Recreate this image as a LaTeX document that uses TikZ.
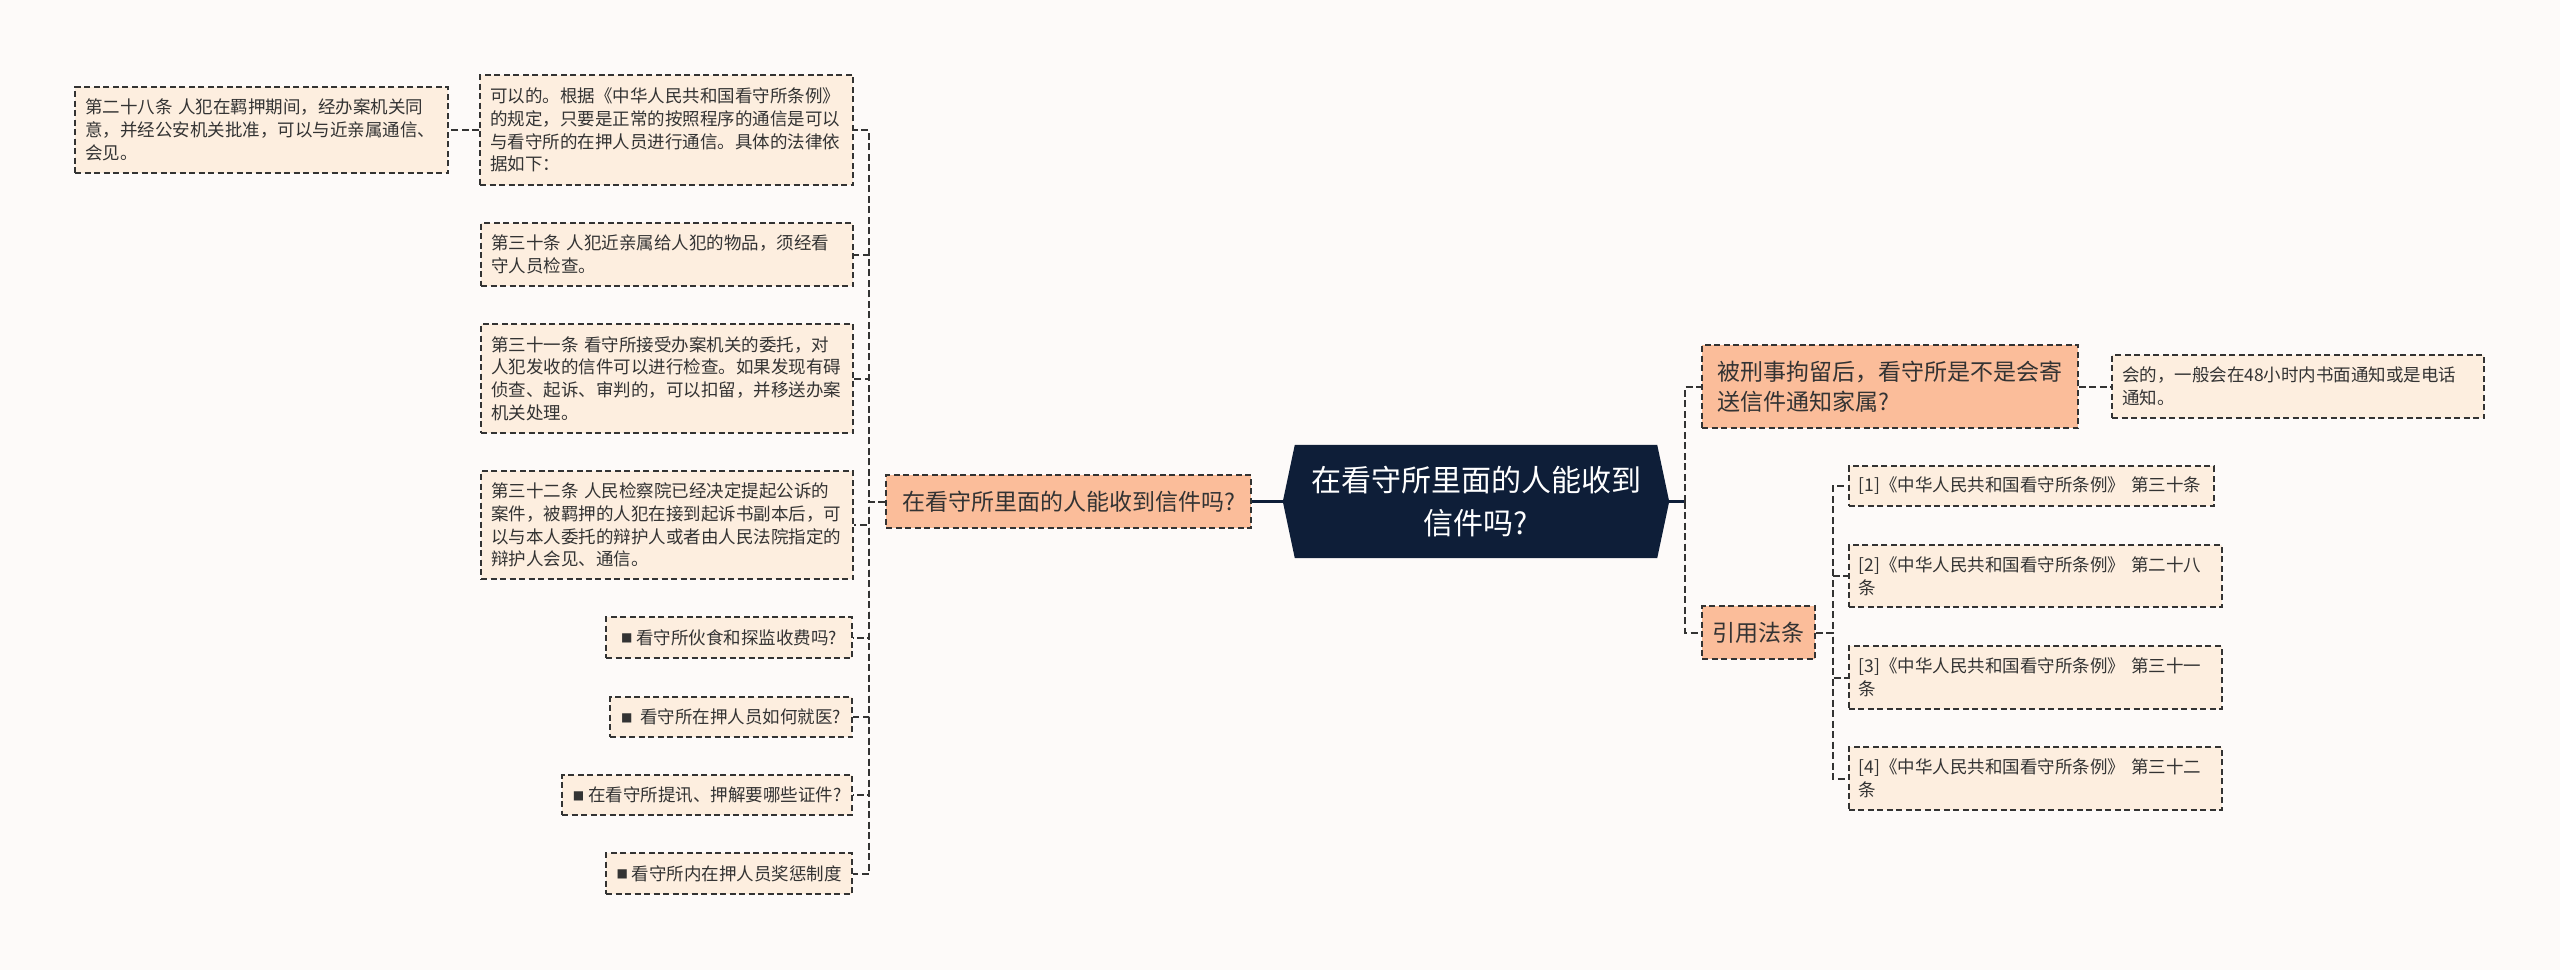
\documentclass[tikz,border=0pt]{standalone}
\usepackage{fontspec}
\setmainfont{Noto Sans CJK SC}
\newfontfamily\symfont{DejaVu Sans}
\usepackage{xcolor}
\usetikzlibrary{positioning, backgrounds}

\definecolor{pagebg}{HTML}{FDFAF9}
\definecolor{leaffill}{HTML}{FDEEDF}
\definecolor{midfill}{HTML}{FBBD9A}
\definecolor{rootfill}{HTML}{0E1E38}
\definecolor{inkgray}{HTML}{333333}
\newcommand{\bulletsq}{\raisebox{2.5pt}{\symfont\fontsize{12}{12}\selectfont ■}}

\begin{document}
\begin{tikzpicture}[
    x=1pt, y=-1pt,
    leaf/.style={rectangle, draw=inkgray, fill=leaffill, line width=1.6pt,
                 dash pattern=on 6pt off 3.5pt, text=inkgray, align=left,
                 inner xsep=6pt, inner ysep=0pt,
                 font=\fontsize{17.5}{22.8}\selectfont},
    textbox/.style={leaf, inner xsep=10pt, text width=#1-20pt},
    mid/.style={leaf, fill=midfill, font=\fontsize{23}{30}\selectfont},
    rootbox/.style={rectangle, text=white, align=center,
                    minimum width=386, minimum height=113,
                    font=\fontsize{30}{43}\selectfont},
    link/.style={draw=inkgray, line width=2pt, dash pattern=on 7pt off 3.5pt},
    rootlink/.style={draw=rootfill, line width=3pt}
]
\useasboundingbox (0,0) rectangle (2560,970);

% centre topic
\node[rootbox] (root) at (1476,501.5) {在看守所里面的人能收到\\信件吗?};

% left branch
\node[mid, minimum width=365, minimum height=53] (L) at (1068.5,501.5)
      {在看守所里面的人能收到信件吗?};
\node[textbox=373pt, minimum height=110] (c1) at (666.5,130)
      {可以的。根据《中华人民共和国看守所条例》\\的规定，只要是正常的按照程序的通信是可以\\与看守所的在押人员进行通信。具体的法律依\\据如下：};
\node[textbox=373pt, minimum height=86] (c0) at (261.5,130)
      {第二十八条~人犯在羁押期间，经办案机关同\\意，并经公安机关批准，可以与近亲属通信、\\会见。};
\node[textbox=372pt, minimum height=63] (c2) at (667,254.5)
      {第三十条~人犯近亲属给人犯的物品，须经看\\守人员检查。};
\node[textbox=372pt, minimum height=109] (c3) at (667,378.5)
      {第三十一条~看守所接受办案机关的委托，对\\人犯发收的信件可以进行检查。如果发现有碍\\侦查、起诉、审判的，可以扣留，并移送办案\\机关处理。};
\node[textbox=372pt, minimum height=108] (c4) at (667,525)
      {第三十二条~人民检察院已经决定提起公诉的\\案件，被羁押的人犯在接到起诉书副本后，可\\以与本人委托的辩护人或者由人民法院指定的\\辩护人会见、通信。};
\node[leaf, anchor=east, minimum width=246, minimum height=41] (q1) at (853,637.5)
      {\bulletsq\ 看守所伙食和探监收费吗?};
\node[leaf, anchor=east, minimum width=242, minimum height=40] (q2) at (853,717)
      {\bulletsq\ \ 看守所在押人员如何就医?};
\node[leaf, anchor=east, minimum width=290, minimum height=40] (q3) at (853,795)
      {\bulletsq\ 在看守所提讯、押解要哪些证件?};
\node[leaf, anchor=east, minimum width=246, minimum height=41] (q4) at (853,873.5)
      {\bulletsq\ 看守所内在押人员奖惩制度};

% right branches
\node[mid, minimum width=376, minimum height=83] (R1) at (1890,386.5)
      {被刑事拘留后，看守所是不是会寄\\送信件通知家属?};
\node[textbox=372pt, minimum height=63] (a1) at (2298,386.5)
      {会的，一般会在48小时内书面通知或是电话\\通知。};
\node[mid, minimum width=113, minimum height=53] (R2) at (1758.5,632.5) {引用法条};
\node[textbox=365pt, anchor=west, minimum height=40] (f1) at (1848,486)
      {[1]《中华人民共和国看守所条例》~第三十条};
\node[textbox=373pt, anchor=west, minimum height=62] (f2) at (1848,576)
      {[2]《中华人民共和国看守所条例》~第二十八\\条};
\node[textbox=373pt, anchor=west, minimum height=63] (f3) at (1848,677.5)
      {[3]《中华人民共和国看守所条例》~第三十一\\条};
\node[textbox=373pt, anchor=west, minimum height=63] (f4) at (1848,778.5)
      {[4]《中华人民共和国看守所条例》~第三十二\\条};

% page and hexagon behind the text
\begin{scope}[on background layer]
  \fill[pagebg] (0,0) rectangle (2560,970);
  \fill[rootfill] ([xshift=12pt]root.north west) -- ([xshift=-12pt]root.north east)
       -- (root.east) -- ([xshift=-12pt]root.south east)
       -- ([xshift=12pt]root.south west) -- (root.west) -- cycle;
\end{scope}

% connectors
\draw[rootlink] (root.west) -- (L.east);
\foreach \n in {c1,c2,c3,c4,q1,q2,q3,q4}
  \draw[link] (L.west) -- ++(-16,0) |- (\n.east);
\draw[link] (c1.west) -- (c0.east);

\coordinate (rs) at ([xshift=16pt]root.east);
\draw[rootlink] (root.east) -- (rs);
\foreach \n in {R1,R2}
  \draw[link] (rs) |- (\n.west);
\draw[link] (R1.east) -- (a1.west);
\foreach \n in {f1,f2,f3,f4}
  \draw[link] (R2.east) -- ++(17,0) |- (\n.west);

\end{tikzpicture}
\end{document}
